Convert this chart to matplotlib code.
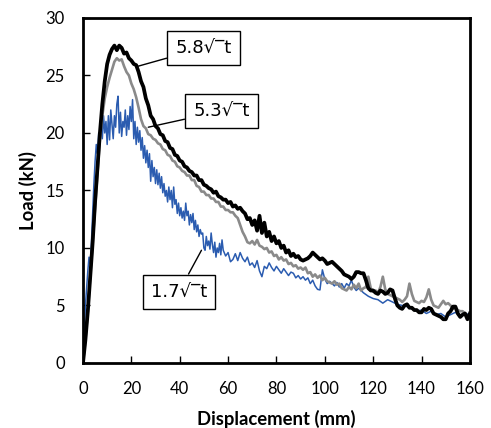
import matplotlib
matplotlib.use("Agg")
import matplotlib.pyplot as plt

# load-displacement curves
black_x = [0, 1, 2, 3, 4, 5, 6, 7, 8, 9, 10, 11, 12, 13, 14, 15, 16, 17, 18, 19,
           20, 21, 22, 23, 24, 25, 26, 27, 28, 29, 30, 31, 32, 33, 34, 35, 36, 37,
           38, 39, 40, 41, 42, 43, 44, 45, 46, 47, 48, 49, 50, 51, 52, 53, 54, 55,
           56, 57, 58, 59, 60, 61, 62, 63, 64, 65, 66, 67, 68, 69, 70, 71, 72, 73,
           74, 75, 76, 77, 78, 79, 80, 81, 82, 83, 84, 85, 86, 87, 88, 89, 90, 91,
           92, 93, 94, 95, 96, 97, 98, 99, 100, 101, 102, 103, 104, 105, 106, 107,
           108, 109, 110, 111, 112, 113, 114, 115, 116, 117, 118, 119, 120, 121,
           122, 123, 124, 125, 126, 127, 128, 129, 130, 131, 132, 133, 134, 135,
           136, 137, 138, 139, 140, 141, 142, 143, 144, 145, 146, 147, 148, 149,
           150, 151, 152, 153, 154, 155, 156, 157, 158, 159, 160]
black_y = [0, 2.0, 4.5, 7.5, 10.5, 14.0, 17.0, 20.0, 22.5, 24.5, 26.0, 26.8, 27.3,
           27.6, 27.2, 27.6, 27.4, 26.9, 27.0, 26.5, 26.3, 26.0, 25.9, 25.3, 24.5,
           24.0, 23.0, 22.4, 21.5, 21.2, 20.6, 20.4, 19.9, 19.8, 19.3, 19.2, 18.7,
           18.6, 18.1, 18.0, 17.6, 17.5, 17.1, 17.0, 16.7, 16.6, 16.3, 16.3, 15.9,
           15.9, 15.5, 15.4, 15.2, 15.1, 14.8, 14.9, 14.5, 14.4, 14.2, 14.2, 13.9,
           14.0, 13.6, 13.7, 13.4, 13.5, 13.2, 13.0, 12.5, 12.6, 12.0, 12.4, 11.5,
           12.8, 11.3, 12.2, 11.0, 11.4, 10.6, 11.0, 10.4, 10.6, 10.0, 10.2, 9.6,
           9.8, 9.3, 9.5, 9.2, 9.3, 9.0, 8.9, 9.0, 9.1, 9.3, 9.6, 9.4, 9.2, 9.0, 9.1,
           8.9, 8.6, 8.7, 8.8, 8.6, 8.4, 8.2, 8.0, 7.7, 7.6, 7.5, 7.3, 7.5, 7.9, 7.9,
           7.8, 7.8, 7.2, 6.5, 6.3, 6.3, 6.1, 6.0, 6.3, 6.2, 6.0, 6.1, 6.4, 6.3, 5.6,
           5.0, 4.8, 4.7, 5.0, 5.1, 4.8, 4.8, 4.6, 4.6, 4.4, 4.4, 4.7, 4.6, 4.8, 4.7,
           4.3, 4.2, 4.1, 4.0, 3.8, 3.8, 4.3, 4.5, 4.9, 4.9, 4.3, 4.0, 4.2, 4.3, 3.8,
           4.3]

gray_x = [0, 1, 2, 3, 4, 5, 6, 7, 8, 9, 10, 11, 12, 13, 14, 15, 16, 17, 18, 19,
          20, 21, 22, 23, 24, 25, 26, 27, 28, 29, 30, 31, 32, 33, 34, 35, 36, 37,
          38, 39, 40, 41, 42, 43, 44, 45, 46, 47, 48, 49, 50, 51, 52, 53, 54, 55,
          56, 57, 58, 59, 60, 61, 62, 63, 64, 65, 66, 67, 68, 69, 70, 71, 72, 73,
          74, 75, 76, 77, 78, 79, 80, 81, 82, 83, 84, 85, 86, 87, 88, 89, 90, 91,
          92, 93, 94, 95, 96, 97, 98, 99, 100, 101, 102, 103, 104, 105, 106, 107,
          108, 109, 110, 111, 112, 113, 114, 115, 116, 117, 118, 119, 120, 121,
          122, 123, 124, 125, 126, 127, 128, 129, 130, 131, 132, 133, 134, 135,
          136, 137, 138, 139, 140, 141, 142, 143, 144, 145, 146, 147, 148, 149,
          150, 151, 152, 153, 154, 155, 156, 157, 158, 159, 160]
gray_y = [0, 2.0, 4.5, 7.5, 10.5, 13.5, 16.5, 19.5, 21.5, 23.0, 24.0, 24.8, 25.5,
          26.2, 26.5, 26.3, 26.4, 25.8, 25.3, 25.0, 24.3, 23.8, 23.1, 22.2, 21.2,
          20.6, 20.4, 19.9, 19.8, 19.5, 19.4, 19.1, 19.0, 18.6, 18.5, 18.1, 18.0,
          17.6, 17.5, 17.1, 17.0, 16.7, 16.6, 16.3, 16.3, 15.9, 15.9, 15.4, 15.3,
          14.9, 14.9, 14.6, 14.6, 14.3, 14.3, 14.0, 14.0, 13.6, 13.6, 13.3, 13.3,
          13.1, 13.1, 12.8, 12.6, 12.0, 11.4, 11.0, 10.5, 10.4, 10.6, 10.3, 10.7,
          10.2, 10.1, 9.9, 10.0, 9.6, 9.7, 9.3, 9.4, 9.0, 9.2, 8.9, 9.0, 8.6, 8.7,
          8.4, 8.5, 8.2, 8.3, 8.1, 8.3, 7.8, 7.9, 7.5, 7.7, 7.4, 7.6, 7.2, 7.4, 7.1,
          7.0, 6.9, 7.1, 6.8, 6.9, 6.5, 6.4, 6.3, 6.6, 6.4, 6.8, 6.5, 6.9, 6.3, 6.5,
          6.6, 7.5, 6.5, 6.2, 6.3, 6.1, 6.6, 7.5, 6.4, 6.0, 5.9, 5.8, 5.7, 5.6, 5.5,
          5.3, 5.5, 5.8, 6.9, 6.0, 5.4, 5.3, 5.2, 5.4, 5.3, 5.7, 6.4, 5.5, 5.0, 4.9,
          4.8, 5.1, 5.4, 5.1, 5.2, 5.0, 4.7, 4.8, 4.6, 4.5, 4.5, 4.3, 4.1, 3.9]

blue_x = [0, 0.5, 1, 1.5, 2, 2.5, 3, 3.5, 4, 4.5, 5, 5.5, 6, 6.5, 7, 7.5, 8, 8.5,
          9, 9.5, 10, 10.5, 11, 11.5, 12, 12.5, 13, 13.5, 14, 14.5, 15, 15.5, 16,
          16.5, 17, 17.5, 18, 18.5, 19, 19.5, 20, 20.5, 21, 21.5, 22, 22.5, 23,
          23.5, 24, 24.5, 25, 25.5, 26, 26.5, 27, 27.5, 28, 28.5, 29, 29.5, 30,
          30.5, 31, 31.5, 32, 32.5, 33, 33.5, 34, 34.5, 35, 35.5, 36, 36.5, 37,
          37.5, 38, 38.5, 39, 39.5, 40, 40.5, 41, 41.5, 42, 42.5, 43, 43.5, 44,
          44.5, 45, 45.5, 46, 46.5, 47, 47.5, 48, 48.5, 49, 49.5, 50, 50.5, 51,
          51.5, 52, 52.5, 53, 53.5, 54, 54.5, 55, 55.5, 56, 56.5, 57, 57.5, 58,
          59, 60, 61, 62, 63, 64, 65, 66, 67, 68, 69, 70, 71, 72, 73, 74, 75, 76,
          77, 78, 79, 80, 81, 82, 83, 84, 85, 86, 87, 88, 89, 90, 91, 92, 93, 94,
          95, 96, 97, 98, 99, 100, 101, 102, 103, 104, 105, 106, 107, 108, 109,
          110, 111, 112, 113, 114, 116, 118, 120, 122, 124, 126, 128, 130, 132,
          134, 136, 138, 140, 142, 144, 146, 148, 150, 152, 154, 156, 158, 160]
blue_y = [0, 2.5, 5.0, 6.5, 8.0, 9.2, 8.6, 10.5, 13.0, 15.5, 17.5, 19.0, 18.2,
          20.0, 19.0, 21.0, 19.5, 21.5, 20.0, 21.0, 19.0, 21.5, 19.4, 22.0, 20.8,
          19.5, 21.5, 20.5, 22.5, 23.2, 20.0, 21.8, 19.7, 21.0, 20.5, 22.0, 19.8,
          21.5, 20.3, 22.3, 21.0, 22.9, 19.5, 21.0, 19.0, 20.5, 19.2, 20.2, 18.5,
          19.6, 17.8, 18.9, 17.4, 18.5, 17.0, 18.2, 15.8, 17.6, 16.2, 17.0, 15.6,
          16.8, 15.5, 16.5, 15.2, 16.2, 14.8, 15.6, 14.5, 15.0, 14.0, 15.3, 14.2,
          15.0, 13.5, 15.3, 13.8, 14.2, 13.0, 13.9, 12.8, 13.5, 12.6, 13.2, 12.4,
          13.9, 12.8, 13.2, 12.0, 12.9, 12.2, 13.0, 11.6, 12.4, 11.4, 12.0, 11.0,
          11.6, 11.2, 11.3, 10.0, 9.8, 11.0, 10.2, 10.6, 9.9, 11.3, 10.3, 9.6,
          10.5, 9.2, 10.0, 9.6, 10.4, 9.4, 10.7, 9.8, 9.3, 9.6, 8.8, 9.0, 9.5, 8.9,
          9.6, 9.1, 8.8, 9.2, 8.5, 8.7, 8.3, 8.9, 8.0, 7.5, 8.4, 8.2, 8.7, 8.3, 8.0,
          8.4, 8.1, 7.8, 8.2, 7.9, 7.6, 7.9, 7.8, 7.4, 7.6, 7.3, 7.5, 7.2, 7.4, 6.9,
          7.2, 6.7, 6.4, 6.35, 8.1, 7.3, 6.9, 7.1, 6.9, 6.7, 7.0, 6.6, 6.9, 6.5,
          6.9, 6.7, 7.2, 6.6, 6.3, 6.5, 6.1, 5.8, 5.6, 5.5, 5.2, 5.5, 5.3, 5.1, 5.0,
          4.9, 4.7, 4.5, 4.6, 4.3, 4.5, 4.2, 4.3, 4.0, 4.2, 4.4, 4.1, 4.2, 4.3]

labels = ["5.8\u221a\u203et", "5.3\u221a\u203et", "1.7\u221a\u203et"]
label_pos = [(49.8, 27.4), (57.2, 21.9), (39.7, 6.2)]
label_tip = [(22.7, 25.8), (27.0, 20.5), (49.0, 9.8)]

plt.rcParams["font.family"] = ["Lato", "DejaVu Sans"]

fig = plt.figure(figsize=(4.91, 4.28), dpi=100)
ax = fig.add_axes([0.169, 0.152, 0.788, 0.806])

ax.plot(blue_x, blue_y, color="#2b5cb0", lw=1.1)
ax.plot(gray_x, gray_y, color="#8a8a8a", lw=1.9)
ax.plot(black_x, black_y, color="black", lw=2.7)

for text, pos, tip in zip(labels, label_pos, label_tip):
    ax.annotate(text, xy=tip, xytext=pos, ha="center", va="center",
                fontsize=13, family=["DejaVu Sans"],
                bbox=dict(boxstyle="square,pad=0.45", fc="white", ec="black", lw=1.0),
                arrowprops=dict(arrowstyle="-", color="black", lw=1.0,
                                shrinkA=0, shrinkB=0))

ax.set_xlim(0, 160)
ax.set_ylim(0, 30)
ax.set_xticks(range(0, 161, 20))
ax.set_yticks(range(0, 31, 5))
ax.tick_params(direction="in", length=5, width=1, labelsize=12)
ax.tick_params(axis="x", pad=13)
ax.tick_params(axis="y", pad=13)
for s in ax.spines.values():
    s.set_linewidth(2.0)

ax.set_xlabel("Displacement (mm)", fontsize=13.3, fontweight="bold", labelpad=9)
ax.set_ylabel("Load (kN)", fontsize=13.3, fontweight="bold", labelpad=6)

fig.savefig("out.png", dpi=100)
